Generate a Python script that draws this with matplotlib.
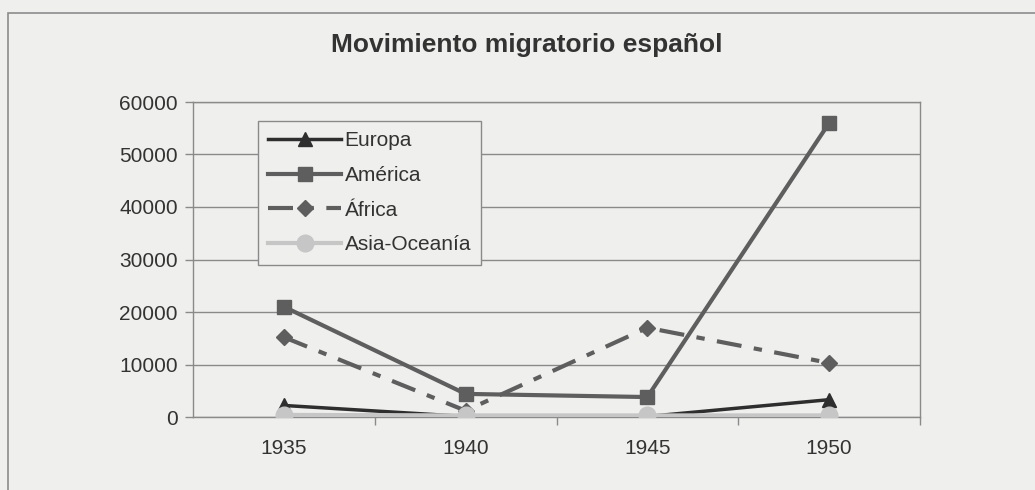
import matplotlib
matplotlib.use("Agg")
import matplotlib.pyplot as plt
from matplotlib.patches import Rectangle
from matplotlib.ticker import FixedLocator

years = ["1935", "1940", "1945", "1950"]
europa = [2200, 100, 100, 3300]
america = [21000, 4400, 3800, 56000]
africa = [15200, 1200, 17000, 10300]
asia = [400, 300, 300, 300]
yticks = [0, 10000, 20000, 30000, 40000, 50000, 60000]

plt.rcParams['font.family'] = ['Liberation Sans', 'DejaVu Sans']
bg = '#efefed'
txt = '#333333'
grid = '#8a8a8a'

fig = plt.figure(figsize=(10.35, 4.9), dpi=100, facecolor=bg)
fig.patches.append(Rectangle((8/1035, -0.2), 1.2, 1.2 - 13/490,
                             transform=fig.transFigure, fill=False,
                             edgecolor='#8c8c8c', lw=1.2))
ax = fig.add_axes([193/1035, 1 - 417/490, (920-193)/1035, (417-102)/490])
ax.set_facecolor(bg)

x = list(range(len(years)))
ax.plot(x, europa, color='#2e2e2e', lw=2.5, marker='^', ms=10.5, label='Europa', zorder=3)
ax.plot(x, america, color='#5e5e5e', lw=3, marker='s', ms=10.5, label='América', zorder=4)
ax.plot(x, africa, color='#5e5e5e', lw=3, marker='D', ms=8.5,
        linestyle=(0, (6, 3, 2, 3)), label='África', zorder=4)
ax.plot(x, asia, color='#c6c6c6', lw=3, marker='o', ms=12, label='Asia-Oceanía', zorder=5)

ax.set_xlim(-0.5, 3.5)
ax.set_ylim(0, 60000)
ax.set_yticks(yticks)
ax.set_yticklabels([str(v) for v in yticks])
ax.set_xticks(x)
ax.set_xticklabels(years)
ax.xaxis.set_minor_locator(FixedLocator([0.5, 1.5, 2.5, 3.5]))
ax.tick_params(axis='x', which='major', length=0, pad=16, labelsize=15, colors=txt)
ax.tick_params(axis='x', which='minor', length=6, width=1, color=grid, direction='out')
ax.tick_params(axis='y', length=6, width=1, color=grid, pad=5, labelsize=15, labelcolor=txt)
ax.yaxis.grid(True, color=grid, lw=1)
ax.set_axisbelow(True)
for s in ax.spines.values():
    s.set_color(grid)
    s.set_linewidth(1)

leg = ax.legend(loc='upper left', bbox_to_anchor=((258-193)/727, (417-121)/315),
                fontsize=15, frameon=True, fancybox=False, edgecolor=grid,
                facecolor=bg, framealpha=1, handlelength=3.5, handletextpad=0.15,
                labelspacing=0.75, borderpad=0.5, borderaxespad=0)
leg.get_frame().set_linewidth(1)
for t in leg.get_texts():
    t.set_color(txt)

fig.text(527/1035, 1 - 45/490, 'Movimiento migratorio español', ha='center', va='center',
         fontsize=19, fontweight='bold', color=txt)

fig.savefig('out.png', dpi=100, facecolor=bg)
